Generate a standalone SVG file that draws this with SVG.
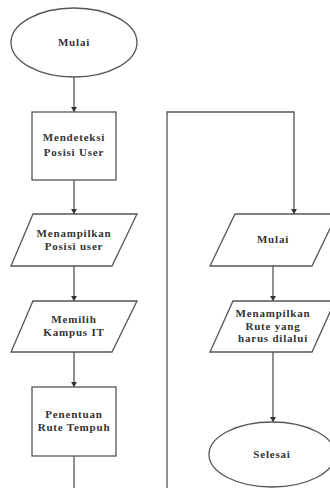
<svg xmlns="http://www.w3.org/2000/svg" width="330" height="488" viewBox="0 0 330 488">
<defs>
<marker id="ah" markerWidth="6" markerHeight="6" refX="5" refY="3" orient="auto" markerUnits="userSpaceOnUse">
<path d="M0,0 L5,3 L0,6 Z" fill="#333"/>
</marker>
<style>
.s{fill:#fff;stroke:#555;stroke-width:1.3}
.c{fill:none;stroke:#555;stroke-width:1.3}
text{font-family:"Liberation Serif","Times New Roman",serif;font-weight:bold;font-size:11px;fill:#333;text-anchor:middle;letter-spacing:0.8px}
</style>
</defs>
<rect width="330" height="488" fill="#fff"/>
<g id="connectors">
<path class="c" d="M74,77 V112" marker-end="url(#ah)"/>
<path class="c" d="M74,180 V214" marker-end="url(#ah)"/>
<path class="c" d="M74,266 V301" marker-end="url(#ah)"/>
<path class="c" d="M74,352 V387" marker-end="url(#ah)"/>
<path class="c" d="M74,456 V490"/>
<path class="c" d="M167,490 V112 H294 V214" marker-end="url(#ah)"/>
<path class="c" d="M273,266 V301" marker-end="url(#ah)"/>
<path class="c" d="M273,352 V422" marker-end="url(#ah)"/>
</g>
<g id="start">
<ellipse class="s" cx="74" cy="42.5" rx="63" ry="34.5"/>
<text x="74" y="46">Mulai</text>
</g>
<g id="detect">
<rect class="s" x="32" y="112" width="84" height="68"/>
<text x="74" y="141">Mendeteksi</text>
<text x="74" y="156">Posisi User</text>
</g>
<g id="showpos">
<polygon class="s" points="33,214 137,214 112,266 11,266"/>
<text x="74" y="237">Menampilkan</text>
<text x="74" y="250">Posisi user</text>
</g>
<g id="choose">
<polygon class="s" points="33,301 137,301 112,352 11,352"/>
<text x="74" y="323">Memilih</text>
<text x="74" y="336">Kampus IT</text>
</g>
<g id="route">
<rect class="s" x="32" y="387" width="84" height="69"/>
<text x="74" y="418">Penentuan</text>
<text x="74" y="431">Rute Tempuh</text>
</g>
<g id="mulai2">
<polygon class="s" points="235,214 337,214 312,266 210,266"/>
<text x="273" y="243">Mulai</text>
</g>
<g id="showroute">
<polygon class="s" points="233,301 335,301 312,352 210,352"/>
<text x="273" y="317">Menampilkan</text>
<text x="273" y="330">Rute yang</text>
<text x="273" y="342">harus dilalui</text>
</g>
<g id="end">
<ellipse class="s" cx="272" cy="454.5" rx="63" ry="32.5"/>
<text x="272" y="458">Selesai</text>
</g>
</svg>
